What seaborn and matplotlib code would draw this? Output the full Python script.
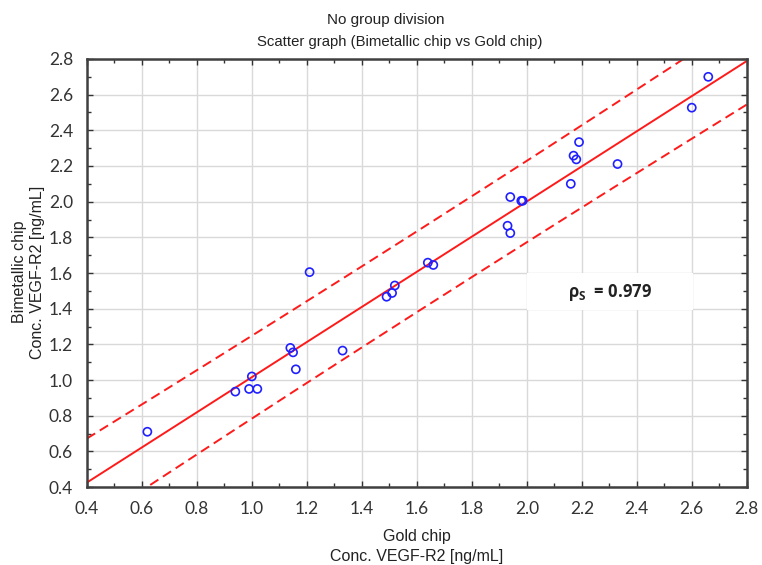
import numpy as np
import pandas as pd
import matplotlib
matplotlib.use("Agg")
import matplotlib.pyplot as plt
import seaborn as sns
from matplotlib.ticker import MultipleLocator
from matplotlib.patches import Rectangle

# Data
gold_chip = [0.62, 0.94, 0.99, 1.00, 1.02, 1.14, 1.15, 1.16, 1.21, 1.33,
             1.49, 1.51, 1.52, 1.64, 1.66, 1.93, 1.94, 1.94, 1.98, 1.985,
             2.16, 2.17, 2.18, 2.19, 2.33, 2.60, 2.66]
bimetallic_chip = [0.71, 0.935, 0.95, 1.02, 0.95, 1.18, 1.155, 1.06, 1.605, 1.165,
                   1.467, 1.488, 1.53, 1.658, 1.645, 1.865, 1.824, 2.026, 2.005, 2.005,
                   2.10, 2.258, 2.237, 2.334, 2.211, 2.527, 2.70]
rho_label = "0.979"
title_lines = ["No group division", "Scatter graph (Bimetallic chip vs Gold chip)"]
xlabel_lines = ["Gold chip", "Conc. VEGF-R2 [ng/mL]"]
ylabel_lines = ["Bimetallic chip", "Conc. VEGF-R2 [ng/mL]"]
ticks = [0.4, 0.6, 0.8, 1.0, 1.2, 1.4, 1.6, 1.8, 2.0, 2.2, 2.4, 2.6, 2.8]

df = pd.DataFrame({"gold": gold_chip, "bimetallic": bimetallic_chip})

sns.set_theme(style="white")
plt.rcParams['font.family'] = ['Liberation Sans Narrow', 'Liberation Sans', 'DejaVu Sans']
plt.rcParams['mathtext.fontset'] = 'custom'
plt.rcParams['mathtext.bf'] = 'Open Sans:bold'
plt.rcParams['mathtext.rm'] = 'Open Sans'

fig = plt.figure(figsize=(7.62, 5.65), dpi=100)
ax = fig.add_axes([0.114, 0.138, 0.866, 0.7576])

ax.set_xlim(0.4, 2.8)
ax.set_ylim(0.4, 2.8)
ax.set_xticks(ticks)
ax.set_yticks(ticks)
ax.xaxis.set_minor_locator(MultipleLocator(0.1))
ax.yaxis.set_minor_locator(MultipleLocator(0.1))
ax.grid(True, which='major', color='#d9d9d9', linewidth=1.0)
ax.set_axisbelow(True)

# white label box over the grid
ax.add_patch(Rectangle((2.0, 1.392), 0.604, 0.208, facecolor='white', edgecolor='none', zorder=1.5))

# Regression and 95% prediction interval
x = df["gold"].to_numpy()
y = df["bimetallic"].to_numpy()
n = len(x)
b, a = np.polyfit(x, y, 1)
resid = y - (a + b * x)
s = np.sqrt(np.sum(resid ** 2) / (n - 2))
xbar = x.mean()
sxx = np.sum((x - xbar) ** 2)
t = 2.0595  # t(0.975, 25)
xs = np.linspace(0.4, 2.8, 200)
yfit = a + b * xs
half = t * s * np.sqrt(1 + 1 / n + (xs - xbar) ** 2 / sxx)

sns.lineplot(x=xs, y=yfit, color='#ff1a1a', linewidth=1.4, ax=ax)
sns.lineplot(x=xs, y=yfit + half, color='#ff1a1a', linewidth=1.4, ax=ax)
sns.lineplot(x=xs, y=yfit - half, color='#ff1a1a', linewidth=1.4, ax=ax)
for line in ax.lines[1:]:
    line.set_dashes([5, 2.8])

sns.scatterplot(data=df, x="gold", y="bimetallic", ax=ax, marker='o', s=34,
                facecolors='none', edgecolor='#2020ff', linewidth=1.2, zorder=5)

ax.tick_params(which='both', direction='in', top=True, right=True, bottom=True, left=True,
               colors='#333333')
ax.tick_params(which='major', length=4, width=1.0, labelsize=12.5, labelcolor='#333333', pad=10)
ax.tick_params(which='minor', length=3, width=1.0)
for lab in ax.get_xticklabels() + ax.get_yticklabels():
    lab.set_family(['Lato', 'DejaVu Sans'])
for sp in ax.spines.values():
    sp.set_color('#404040')
    sp.set_linewidth(1.8)

ax.set_xlabel("")
ax.set_ylabel("")
fig.text(417 / 762, 1 - 536 / 565, xlabel_lines[0], fontsize=11.5, color='#222222', ha='center', va='center')
fig.text(417 / 762, 1 - 556 / 565, xlabel_lines[1], fontsize=11.5, color='#222222', ha='center', va='center')
fig.text(20 / 762, 1 - 272 / 565, ylabel_lines[0], fontsize=11.5, color='#222222', ha='center', va='center', rotation=90)
fig.text(38 / 762, 1 - 272 / 565, ylabel_lines[1], fontsize=11.5, color='#222222', ha='center', va='center', rotation=90)
fig.text(386 / 762, 1 - 20 / 565, title_lines[0], fontsize=11, color='#222222', ha='center', va='center')
fig.text(400 / 762, 1 - 42 / 565, title_lines[1], fontsize=10.7, color='#222222', ha='center', va='center')

ax.text(2.302, 1.49, "ρ$_\\mathbf{S}$  = " + rho_label, fontsize=12, fontweight='bold',
        family=['Open Sans', 'DejaVu Sans'], ha='center', va='center', color='#222222', zorder=4)

fig.savefig("out.png", dpi=100)
